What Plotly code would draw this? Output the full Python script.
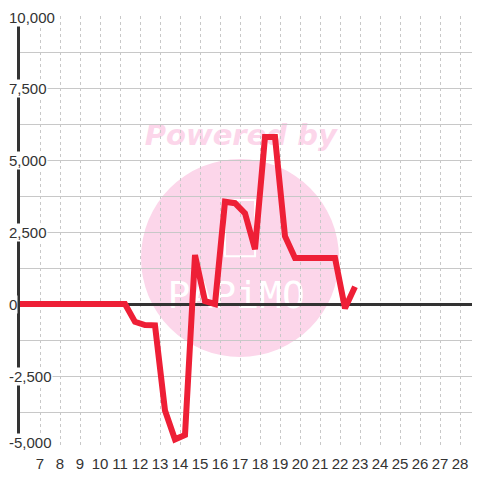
import plotly.graph_objects as go

# ---- data ----
x_vals = [5.75, 6.25, 6.75, 7.25, 7.75, 8.25, 8.75, 9.25, 9.75, 10.25, 10.75, 11.25,
          11.75, 12.25, 12.75, 13.25, 13.75, 14.25, 14.75, 15.25, 15.75, 16.25, 16.75,
          17.25, 17.75, 18.25, 18.75, 19.25, 19.75, 20.25, 20.75, 21.25, 21.75, 22.25, 22.75]
y_vals = [0, 0, 0, 0, 0, 0, 0, 0, 0, 0, 0, 0,
          -620, -730, -740, -3700, -4700, -4550, 1700, 100, 0, 3550, 3500,
          3150, 1900, 5800, 5800, 2350, 1600, 1600, 1600, 1600, 1600, -150, 600]
x_ticks = [7, 8, 9, 10, 11, 12, 13, 14, 15, 16, 17, 18, 19, 20, 21, 22, 23, 24, 25, 26, 27, 28]
y_label_vals = [10000, 7500, 5000, 2500, 0, -2500, -5000]
y_label_text = ["10,000", "7,500", "5,000", "2,500", "0", "-2,500", "-5,000"]

BG = "#ffffff"
FONT = "Liberation Sans"
PLOT_L, PLOT_W = 20, 460  # screen px of plot area (page has 8px body margin)

fig = go.Figure()
fig.add_trace(go.Scatter(x=x_vals, y=y_vals, mode="lines",
                         line=dict(color="#ee1f36", width=6), hoverinfo="skip"))

# watermark (below grid)
wm = "#fcd6ea"
fig.add_shape(type="circle", xref="paper", yref="paper",
              x0=0.263, x1=0.6935, y0=0.2106, y1=0.669,
              fillcolor=wm, line=dict(width=0), layer="below")
fig.add_shape(type="rect", xref="paper", yref="paper",
              x0=0.4457, x1=0.511, y0=0.444, y1=0.574,
              fillcolor="rgba(0,0,0,0)", line=dict(color="white", width=2), layer="below")
fig.add_shape(type="rect", xref="paper", yref="paper",
              x0=0.2, x1=0.76, y0=0.669, y1=0.789,
              fillcolor="rgba(0,0,0,0)", line=dict(width=0), layer="below",
              label=dict(text="Powered by", textposition="middle center",
                         font=dict(family="DejaVu Sans", size=29, color=wm,
                                   weight="bold", style="italic")))
fig.add_shape(type="rect", xref="paper", yref="paper",
              x0=0.28, x1=0.66, y0=0.295, y1=0.425,
              fillcolor="rgba(0,0,0,0)", line=dict(width=0), layer="below",
              label=dict(text="PAPiMO", textposition="middle center",
                         font=dict(family="DejaVu Sans Mono", size=38, color="white")))

# y labels with background boxes over the axis line
for v, t in zip(y_label_vals, y_label_text):
    left_px = 8
    shift = 6 if v == min(y_label_vals) else (-1 if v == max(y_label_vals) else 0)
    fig.add_annotation(x=(left_px - PLOT_L) / PLOT_W, xref="paper", xanchor="left",
                       y=v, yref="y", yanchor="middle", yshift=shift,
                       text=t, showarrow=False, bgcolor=BG, borderpad=0,
                       font=dict(family=FONT, size=15, color="#333333"))

fig.update_layout(
    width=472, height=472,
    margin=dict(l=12, r=0, t=8, b=32, autoexpand=False),
    paper_bgcolor=BG, plot_bgcolor=BG,
    showlegend=False,
    xaxis=dict(range=[6, 29], tickvals=x_ticks, showgrid=True, gridcolor="#c8c8c8",
               griddash="dot", gridwidth=1, zeroline=False, showline=False,
               ticks="outside", ticklen=2, tickcolor="rgba(0,0,0,0)",
               tickfont=dict(family=FONT, size=15, color="#333333"), fixedrange=True,
               automargin=False),
    yaxis=dict(range=[-5000, 10000], tick0=0, dtick=1250, showgrid=True,
               gridcolor="#c8c8c8", gridwidth=1, zeroline=True, zerolinecolor="#333333",
               zerolinewidth=3, showline=True, linecolor="#333333", linewidth=3,
               showticklabels=False, ticks="", fixedrange=True, automargin=False),
)

fig.write_html("out.html")
